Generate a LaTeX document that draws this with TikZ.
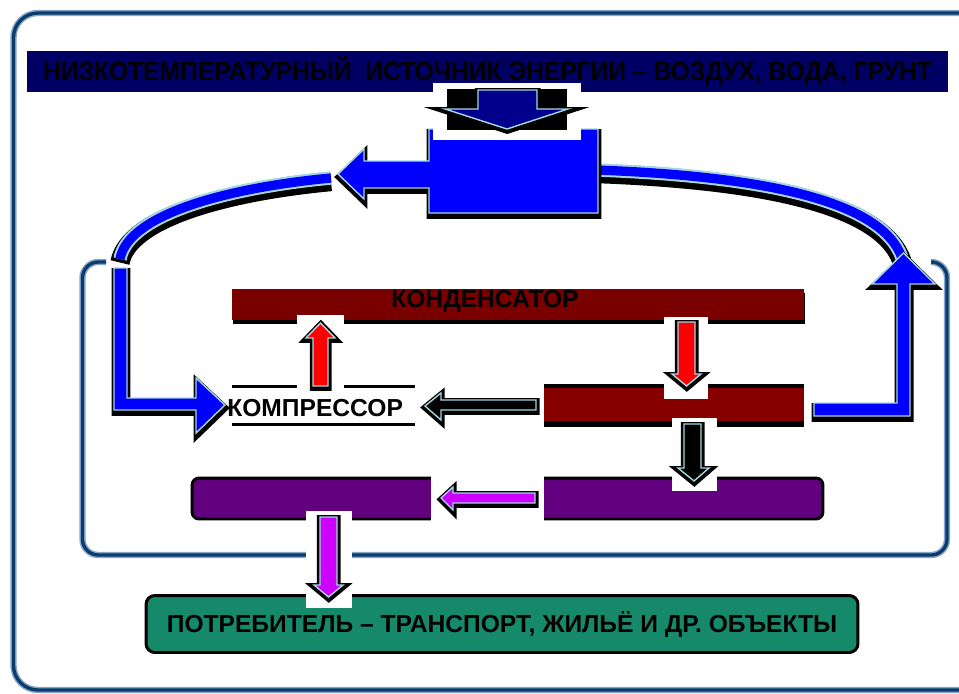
\documentclass[tikz,border=0pt]{standalone}
\usepackage{fontspec}
\setmainfont{Liberation Sans}
\definecolor{framecol}{RGB}{10,60,110}
\definecolor{framelite}{RGB}{135,165,200}
\definecolor{srcnavy}{RGB}{0,0,100}
\definecolor{arrnavy}{RGB}{0,0,140}
\definecolor{hotblue}{RGB}{0,0,255}
\definecolor{edgecol}{RGB}{165,215,225}
\definecolor{condred}{RGB}{122,0,0}
\definecolor{midred}{RGB}{134,0,0}
\definecolor{valvepurple}{RGB}{98,0,128}
\definecolor{magarrow}{RGB}{205,0,255}
\definecolor{usergreen}{RGB}{23,137,107}

\begin{document}
\begin{tikzpicture}[x=0.02cm, y=-0.02cm,
  bigtext/.style={font=\bfseries\fontsize{14}{16}\selectfont, inner sep=0pt},
  blockarr/.style={fill=#1, draw=edgecol, line width=0.8pt, line join=miter,
    preaction={fill=black, draw=black, line width=3.8pt,
      transform canvas={shift={(0.3,1.5)}}}},
  bigarr/.style={fill=#1, draw=edgecol, line width=0.8pt,
    preaction={fill=black, draw=black, line width=3.4pt,
      transform canvas={shift={(0.5,3)}}}},
  pipe/.style={draw=hotblue, line width=5.3pt,
    preaction={draw=black, line width=11pt, transform canvas={shift={(0,3.5)}}},
    preaction={draw=edgecol, line width=7.6pt}},
  frame/.style={rounded corners=#1, line width=3.6pt, draw=framelite,
    postaction={draw=framecol, line width=1.9pt}},
  bar/.style={inner sep=0pt, preaction={fill=black, transform canvas={shift={(1,3.5)}}}}
]
\useasboundingbox (0,0) rectangle (959,693);

\begin{scope}
  \clip (0,0) rectangle (959,693);
  \draw[frame=14] (13.5,13) rectangle (990,690);
\end{scope}
\draw[frame=9] (106,262) -| (82.5,555) -| (947,262) -- (934,262);

\node[fill=srcnavy, minimum width=18.42cm, minimum height=0.82cm, inner sep=0pt,
      font=\bfseries\fontsize{15}{18}\selectfont, text height=10.8pt, text depth=0pt]
  (source) at (487.5,71.5)
  {\scalebox{0.935}[1]{НИЗКОТЕМПЕРАТУРНЫЙ\ \ ИСТОЧНИК ЭНЕРГИИ – ВОЗДУХ, ВОДА, ГРУНТ}};

\draw[pipe] (331,178) .. controls (225,188) and (128,215) .. (120,259);
\draw[pipe] (596,170) .. controls (760,176) and (882,200) .. (902,258);

\draw[bigarr=hotblue] (429,129) -- (598,129) -- (598,213) -- (429,213) -- (429,188)
  -- (364,188) -- (364,199) -- (338,174) -- (364,149) -- (364,161) -- (429,161) -- cycle;

\fill[white] (433,83) rectangle (581,140);
\fill[black] (447,89) rectangle (567,130);
\draw[blockarr=arrnavy] (478,90) -- (537,90) -- (537,109) -- (568,109) -- (507,129)
  -- (445,109) -- (478,109) -- cycle;

\draw[bigarr=hotblue] (114,268) -- (127,268) -- (127,398) -- (196,398) -- (196,378)
  -- (225,405) -- (196,433) -- (196,410) -- (114,410) -- cycle;
\draw[bigarr=hotblue] (814,403) -- (897,403) -- (897,284) -- (872,284) -- (903.5,253)
  -- (935,284) -- (910,284) -- (910,416) -- (814,416) -- cycle;

\node[bar, fill=condred, minimum width=11.44cm, minimum height=0.62cm]
  (cond) at (518,304.5) {};
\node[bigtext, anchor=base west] (condlabel) at (391,307) {КОНДЕНСАТОР};

\node[fill=midred, inner sep=0pt, minimum width=5.2cm, minimum height=0.86cm]
  (midbar) at (674,405.5) {};
\fill[black] (midbar.north west) rectangle ++(260,4);
\fill[black] (midbar.south west) rectangle ++(260,-6);

\fill[black] (232,384.5) rectangle (415,388);
\fill[black] (232,422.5) rectangle (415,426);
\node[bigtext, anchor=base west] (comp) at (227,416) {КОМПРЕССОР};

\node[fill=valvepurple, draw=black, line width=1.7pt, rounded corners=4pt, inner sep=0pt,
      minimum width=12.62cm, minimum height=0.82cm] (valve) at (507.5,498.5) {};

\node[fill=usergreen, draw=black, line width=1.7pt, rounded corners=5pt, inner sep=0pt,
      minimum width=14.24cm, minimum height=1.14cm,
      font=\bfseries\fontsize{14}{16}\selectfont, text height=10pt, text depth=0pt]
  (user) at (502,624) {ПОТРЕБИТЕЛЬ – ТРАНСПОРТ, ЖИЛЬЁ И ДР. ОБЪЕКТЫ};

\fill[white] (297,315) rectangle (344,389);
\draw[blockarr=red] (313,386) -- (313,338) -- (306,338) -- (320.5,323) -- (335,338)
  -- (328,338) -- (328,386) -- cycle;

\fill[white] (664,317) rectangle (708,399);
\draw[blockarr=red] (678,322) -- (695,322) -- (695,374) -- (701,374) -- (686.5,386)
  -- (672,374) -- (678,374) -- cycle;

\fill[white] (415,384) rectangle (544,427);
\draw[blockarr=black] (536,400) -- (536,410) -- (441,410) -- (441,420) -- (425,406)
  -- (441,393) -- (441,400) -- cycle;

\fill[white] (672,418) rectangle (717,491);
\draw[blockarr=black] (684,424) -- (701,424) -- (701,468) -- (709,468) -- (694,481)
  -- (678,468) -- (684,468) -- cycle;

\fill[white] (431,476) rectangle (544,521);
\draw[blockarr=magarrow] (535,493) -- (535,503) -- (453,503) -- (453,510) -- (441,498)
  -- (453,487) -- (453,493) -- cycle;

\fill[white] (306,511) rectangle (352,608);
\draw[blockarr=magarrow] (320,517) -- (337,517) -- (337,585) -- (343,585) -- (328.5,597)
  -- (314,585) -- (320,585) -- cycle;
\end{tikzpicture}
\end{document}
